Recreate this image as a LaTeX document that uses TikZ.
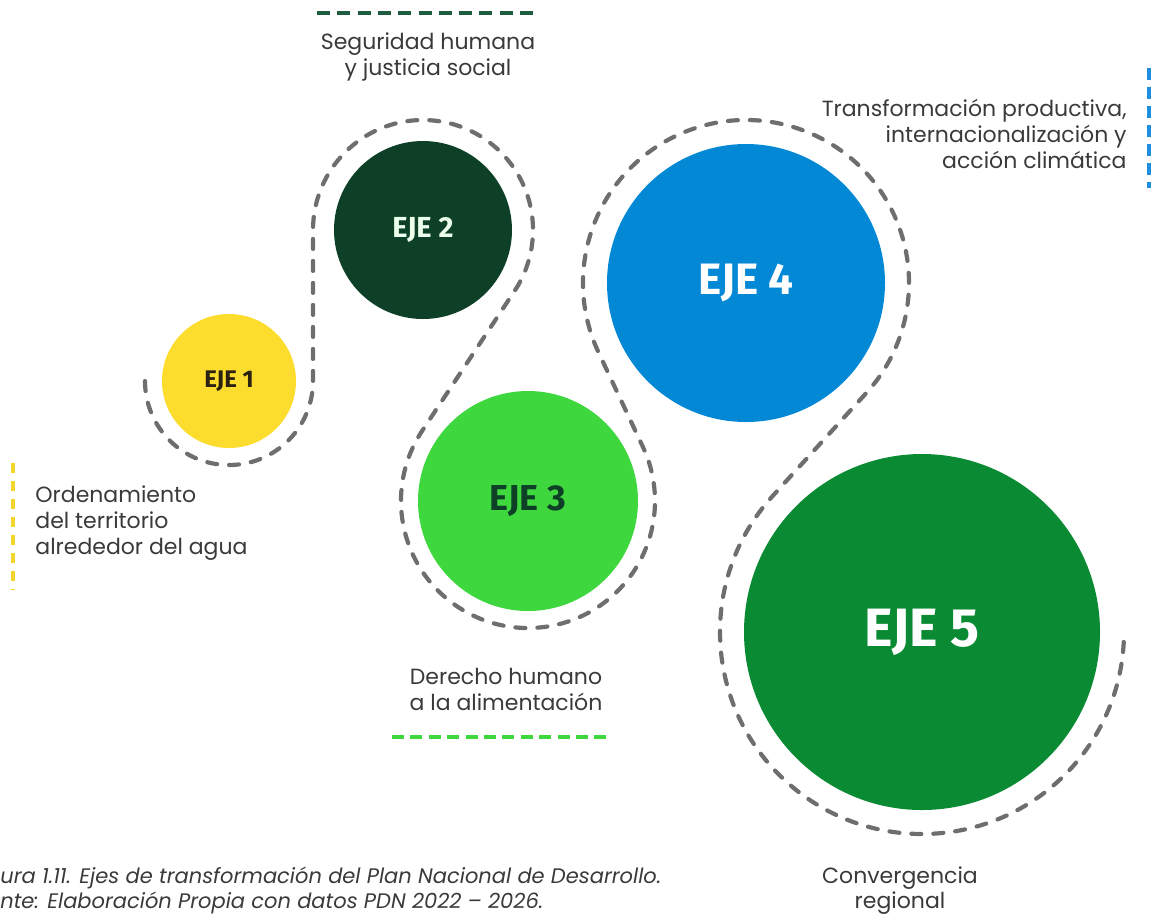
\documentclass[tikz,border=0pt]{standalone}
\usepackage{fontspec}
\setmainfont{Poppins}
\newfontfamily\ejefont{Fira Sans}
\usepackage{tikz}
\usetikzlibrary{calc}

\definecolor{ejeyellow}{HTML}{FCDC2C}
\definecolor{ejedark}{HTML}{0E3F27}
\definecolor{ejelime}{HTML}{3ED83E}
\definecolor{ejeblue}{HTML}{0388D6}
\definecolor{ejegreen}{HTML}{098A33}
\definecolor{trailgray}{HTML}{6E6E6E}
\definecolor{textgray}{HTML}{3A3A3A}
\definecolor{inkbrown}{HTML}{2B2212}
\definecolor{topgreen}{HTML}{1E5C3F}
\definecolor{sideblue}{HTML}{1E8FE0}
\definecolor{sideyellow}{HTML}{F2D62C}

\newcommand\ejesize[1]{\ejefont\bfseries\fontsize{#1}{#1}\selectfont}

\begin{document}
\begin{tikzpicture}[x=0.5pt, y=0.5pt,
  eje/.style={circle, inner sep=0pt, text=white},
  trail/.style={draw=trailgray, line width=2.1pt, line cap=round, dash pattern=on 5pt off 6pt},
  tag/.style={inner sep=0pt, text=textgray, font=\fontsize{11}{13}\selectfont},
  tagline/.style={line width=2.2pt, dash pattern=on 6.5pt off 3.65pt}]

  \useasboundingbox (0,0) rectangle (1151,-918);

  % the five axes
  \node[eje, fill=ejeyellow, text=inkbrown, minimum size=67pt, font={\ejesize{12}}] (e1) at (229,-381) {EJE 1};
  \node[eje, fill=ejedark, text=white!92!green, minimum size=89pt, font={\ejesize{14.5}}] (e2) at (423,-230) {EJE 2};
  \node[eje, fill=ejelime, text=ejedark, minimum size=110pt, font={\ejesize{18}}] (e3) at (528,-501) {EJE 3};
  \node[eje, fill=ejeblue, minimum size=139pt, font={\ejesize{22}}] (e4) at (746,-283) {EJE 4};
  \node[eje, fill=ejegreen, minimum size=178pt, font={\ejesize{27}}] (e5) at (922,-632) {EJE 5};

  % dashed trail winding round them
  \draw[trail] ($(e1.center)+(180:84)$) arc[start angle=180, end angle=360, radius=84]
    -- ($(e2.center)+(180:110)$) arc[start angle=180, end angle=-33.7, radius=110]
    -- ($(e3.center)+(146.3:127)$) arc[start angle=146.3, end angle=385.4, radius=127]
    -- ($(e4.center)+(205.4:163)$) arc[start angle=205.4, end angle=-42, radius=163]
    -- ($(e5.center)+(138:202)$) arc[start angle=138, end angle=360, radius=202];

  % names of the axes
  \node[tag, align=center] (t2) at (428,-57) {Seguridad humana\\y justicia social};
  \draw[tagline, draw=topgreen] (317,-13) -- (533,-13);

  \node[tag, align=right, anchor=east] (t4) at (1127,-134) {Transformación productiva,\\internacionalización y\\acción climática};
  \draw[tagline, draw=sideblue, line width=1.8pt, dash pattern=on 6pt off 3.5pt] (1149,-68) -- (1149,-188);

  \node[tag, align=left, anchor=west] (t1) at (35,-523) {Ordenamiento\\del territorio\\alrededor del agua};
  \draw[tagline, draw=sideyellow, line width=1.6pt, dash pattern=on 5pt off 4pt] (13,-463) -- (13,-590);

  \node[tag, align=center] (t3) at (506,-689) {Derecho humano\\a la alimentación};
  \draw[tagline, draw=ejelime, dash pattern=on 6pt off 3.2pt] (392,-737) -- (607,-737);

  \node[tag, align=center, font=\fontsize{11}{12.5}\selectfont] (t5) at (900,-891) {Convergencia\\regional};

  % caption, cut at the left edge
  \node[inner sep=0pt, anchor=west, align=left, text=textgray, font=\itshape\fontsize{10.5}{12.5}\selectfont] (cap) at (0,-890)
    {ura 1.11. Ejes de transformación del Plan Nacional de Desarrollo.\\nte: Elaboración Propia con datos PDN 2022 – 2026.};

\end{tikzpicture}
\end{document}
